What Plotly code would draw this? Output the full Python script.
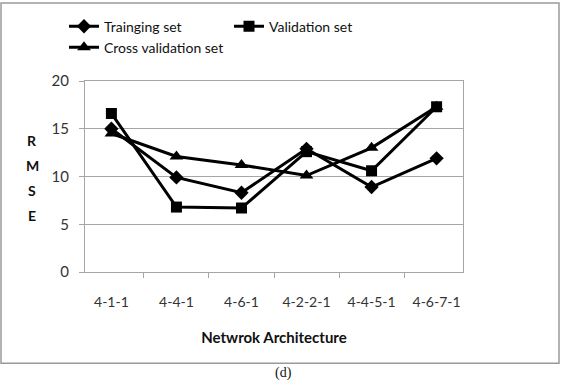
import plotly.graph_objects as go

categories = ["4-1-1", "4-4-1", "4-6-1", "4-2-2-1", "4-4-5-1", "4-6-7-1"]
training = [15.0, 9.9, 8.3, 12.9, 8.9, 11.9]
validation = [16.6, 6.8, 6.7, 12.6, 10.6, 17.3]
cross_val = [14.5, 12.1, 11.2, 10.1, 13.0, 17.3]
y_ticks = [0, 5, 10, 15, 20]

L, R, T, B = 85, 101, 79.5, 108
W, H = 564, 380
pw, ph = W - L - R, H - T - B

def px(x):
    return (x - L) / pw

def py(y):
    return (H - B - y) / ph

FONT = "Lato, sans-serif"

fig = go.Figure()
series = [
    ("Trainging set", training, "diamond", 11, "legend"),
    ("Validation set", validation, "square", 11, "legend"),
    ("Cross validation set", cross_val, "triangle-up", 12, "legend2"),
]
for name, vals, sym, sz, lg in series:
    fig.add_trace(go.Scatter(
        x=categories, y=vals, name=name, mode="lines+markers",
        line=dict(color="black", width=3),
        marker=dict(symbol=sym, size=sz, color="black"),
        legend=lg,
    ))

grid = "#a6a6a6"
legend_common = dict(
    orientation="h", xanchor="left", yanchor="middle",
    font=dict(size=14, family=FONT, color="#111"),
    itemwidth=30, bgcolor="rgba(0,0,0,0)",
)
fig.update_layout(
    width=W, height=H,
    margin=dict(l=L, r=R, t=T, b=B),
    paper_bgcolor="white", plot_bgcolor="white",
    font=dict(family=FONT, color="#222"),
    showlegend=True,
    legend=dict(x=px(64), y=py(26), entrywidth=120, entrywidthmode="pixels", **legend_common),
    legend2=dict(x=px(64), y=py(47), **legend_common),
    xaxis=dict(
        type="category", tickson="boundaries", ticks="outside", ticklen=5,
        tickcolor=grid, showline=True, linecolor=grid, linewidth=1, mirror=True,
        showgrid=False, tickfont=dict(size=14, color="#333"), ticklabelstandoff=17,
        title=dict(text="<b>Netwrok Architecture</b>", font=dict(size=15, family=FONT, color="#111"), standoff=23),
    ),
    yaxis=dict(
        range=[0, 20], tickvals=y_ticks, ticks="outside", ticklen=5,
        tickcolor=grid, showline=True, linecolor=grid, linewidth=1, mirror=True,
        showgrid=True, gridcolor=grid, gridwidth=1, zeroline=False,
        tickfont=dict(size=15, color="#333"), ticklabelstandoff=7,
    ),
    shapes=[dict(type="rect", xref="paper", yref="paper",
                 x0=px(1), x1=px(559), y0=py(364), y1=py(1),
                 line=dict(color="#9a9a9a", width=1.5), fillcolor="rgba(0,0,0,0)",
                 layer="below")],
)

for letter, ypos in zip("RMSE", [139, 165, 190, 215]):
    fig.add_annotation(text=f"<b>{letter}</b>", xref="paper", yref="paper",
                       x=px(32), y=py(ypos), xanchor="center", yanchor="middle",
                       showarrow=False,
                       font=dict(size=14, family=FONT, color="#111"))

fig.add_annotation(text="(d)", xref="paper", yref="paper", x=px(283), y=py(384),
                   xanchor="center", yanchor="bottom",
                   showarrow=False, font=dict(size=14, family="Liberation Serif, serif", color="#111"))

fig.write_html("out.html")
